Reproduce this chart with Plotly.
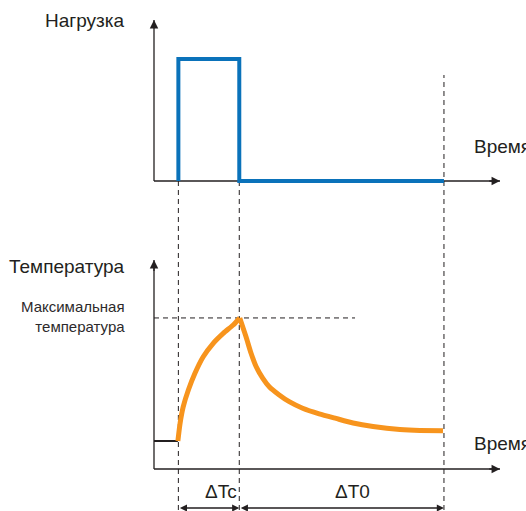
import plotly.graph_objects as go

# ---------------- data ----------------
# Load pulse (time units, relative load)
load_t = [1.0, 1.0, 3.5, 3.5, 11.9]
load_v = [0, 1, 1, 0, 0]

# Temperature: ambient segment, heating phase, cooling phase
ambient_t = [0.0, 0.98]
ambient_v = [20, 20]

heat_t = [0.98, 1.07, 1.20, 1.41, 1.68, 2.02, 2.43, 2.84, 3.25, 3.52]
heat_v = [20.0, 32.6, 44.5, 56.4, 68.4, 80.2, 89.8, 96.9, 102.9, 107.9]

cool_t = [3.52, 3.78, 3.98, 4.19, 4.46, 4.73, 5.14, 5.55, 6.10, 6.78, 7.47, 8.17, 8.99, 10.09, 10.91, 11.86]
cool_v = [107.9, 94.3, 82.9, 73.2, 65.0, 58.8, 52.9, 48.1, 43.4, 39.4, 36.1, 32.9, 30.4, 28.2, 27.5, 27.4]

t_on, t_off, t_end = 1.0, 3.5, 11.9
t_max = 14.2
load_max = 1.32
temp_max = 149.3
temp_peak = 107.9
maxline_end = 8.25

labels = {
    "load": "Нагрузка",
    "time": "Время",
    "temp": "Температура",
    "tmax": "Максимальная<br>температура",
    "dtc": "ΔTc",
    "dt0": "ΔT0",
}

# ---------------- styles ----------------
W, H = 526, 511
BLUE = "#0A72BA"
ORANGE = "#F7941D"
INK = "#231F20"
FONT = "Liberation Sans, Arial, sans-serif"


def px_x(p):
    return p / W


def px_y(p):
    return 1 - p / H


# pixel geometry of the two panels (origin and axis-tip positions)
X0, XTIP = 154, 500
TOP0, TOPTIP = 181, 20
BOT0, BOTTIP = 469, 260
x_scale = (XTIP - X0) / t_max
top_scale = (TOP0 - TOPTIP) / load_max
bot_scale = (BOT0 - BOTTIP) / temp_max
pad_t = 0.3     # small padding so lines on the axes are not clipped
pad_load = 0.05
pad_temp = 5

fig = go.Figure()

fig.add_trace(go.Scatter(x=load_t, y=load_v, mode="lines", xaxis="x", yaxis="y",
                         line=dict(color=BLUE, width=4, shape="linear"),
                         hoverinfo="skip", showlegend=False))
fig.add_trace(go.Scatter(x=ambient_t, y=ambient_v, mode="lines", xaxis="x2", yaxis="y2",
                         line=dict(color=INK, width=2),
                         hoverinfo="skip", showlegend=False))
fig.add_trace(go.Scatter(x=heat_t, y=heat_v, mode="lines", xaxis="x2", yaxis="y2",
                         line=dict(color=ORANGE, width=5, shape="spline", smoothing=0.6),
                         hoverinfo="skip", showlegend=False))
fig.add_trace(go.Scatter(x=cool_t, y=cool_v, mode="lines", xaxis="x2", yaxis="y2",
                         line=dict(color=ORANGE, width=5, shape="spline", smoothing=0.6),
                         hoverinfo="skip", showlegend=False))

hidden = dict(visible=False, fixedrange=True)
xdom = [px_x(X0 - pad_t * x_scale), px_x(XTIP + 2)]
x_range = [-pad_t, t_max + 2 / x_scale]

fig.update_layout(
    width=W, height=H, autosize=False,
    margin=dict(l=0, r=0, t=0, b=0),
    paper_bgcolor="white", plot_bgcolor="rgba(0,0,0,0)",
    xaxis=dict(domain=xdom, range=x_range, anchor="y", **hidden),
    yaxis=dict(domain=[px_y(TOP0 + pad_load * top_scale), px_y(TOPTIP)],
               range=[-pad_load, load_max], anchor="x", **hidden),
    xaxis2=dict(domain=xdom, range=x_range, anchor="y2", **hidden),
    yaxis2=dict(domain=[px_y(BOT0 + pad_temp * bot_scale), px_y(BOTTIP)],
                range=[-pad_temp, temp_max], anchor="x2", **hidden),
    showlegend=False,
)

axis_line = dict(color=INK, width=1.3)
dash = dict(color=INK, width=1, dash="5px,4px")
shapes = []
# axis lines (drawn below the data)
for xr, yr, ymax in (("x", "y", load_max), ("x2", "y2", temp_max)):
    shapes.append(dict(type="line", xref=xr, yref=yr, x0=0, x1=t_max, y0=0, y1=0,
                       line=axis_line, layer="below"))
    shapes.append(dict(type="line", xref=xr, yref=yr, x0=0, x1=0, y0=0, y1=ymax,
                       line=axis_line, layer="below"))
for t in (t_on, t_off):
    shapes.append(dict(type="line", xref="x", yref="paper", x0=t, x1=t,
                       y0=px_y(510), y1=px_y(181), line=dash, layer="below"))
shapes.append(dict(type="line", xref="x", yref="paper", x0=t_end, x1=t_end,
                   y0=px_y(510), y1=px_y(75), line=dash, layer="below"))
shapes.append(dict(type="line", xref="x2", yref="y2", x0=0, x1=maxline_end,
                   y0=temp_peak, y1=temp_peak, line=dash, layer="below"))
fig.update_layout(shapes=shapes)

ann = []
# arrowheads at the ends of the axes
head = dict(showarrow=True, arrowhead=2, arrowsize=1.3, arrowwidth=1.3,
            arrowcolor=INK, text="", standoff=0, startstandoff=0)
ann.append(dict(xref="x", yref="y", axref="x", ayref="y", x=t_max, y=0, ax=t_max - 0.5, ay=0, **head))
ann.append(dict(xref="x", yref="y", axref="x", ayref="y", x=0, y=load_max, ax=0, ay=load_max - 0.08, **head))
ann.append(dict(xref="x2", yref="y2", axref="x2", ayref="y2", x=t_max, y=0, ax=t_max - 0.5, ay=0, **head))
ann.append(dict(xref="x2", yref="y2", axref="x2", ayref="y2", x=0, y=temp_max, ax=0, ay=temp_max - 9, **head))

# dimension arrows
dim_style = dict(showarrow=True, arrowhead=2, startarrowhead=2, arrowside="end+start",
                 arrowsize=1.1, startarrowsize=1.1, arrowwidth=1.3, arrowcolor=INK,
                 text="", standoff=0, startstandoff=0)
ann.append(dict(xref="x2", yref="paper", axref="x2", ayref="pixel",
                x=t_off, ax=t_on, y=px_y(508), ay=0, **dim_style))
ann.append(dict(xref="x2", yref="paper", axref="x2", ayref="pixel",
                x=t_end, ax=t_off, y=px_y(508), ay=0, **dim_style))

tfont = dict(family=FONT, size=19, color=INK)
sfont = dict(family=FONT, size=15, color="#2d2a2b")
ann.append(dict(xref="paper", yref="paper", x=px_x(127), y=px_y(21), text=labels["load"],
                showarrow=False, xanchor="right", yanchor="middle", font=tfont))
ann.append(dict(xref="paper", yref="paper", x=px_x(472), y=px_y(146), text=labels["time"],
                showarrow=False, xanchor="left", yanchor="middle", font=tfont))
ann.append(dict(xref="paper", yref="paper", x=px_x(127), y=px_y(266), text=labels["temp"],
                showarrow=False, xanchor="right", yanchor="middle", font=tfont))
ann.append(dict(xref="paper", yref="paper", x=px_x(127), y=px_y(316), text=labels["tmax"],
                showarrow=False, xanchor="right", yanchor="middle", align="right", font=sfont))
ann.append(dict(xref="paper", yref="paper", x=px_x(472), y=px_y(443), text=labels["time"],
                showarrow=False, xanchor="left", yanchor="middle", font=tfont))
ann.append(dict(xref="paper", yref="paper", x=px_x(221), y=px_y(491), text=labels["dtc"],
                showarrow=False, xanchor="center", yanchor="middle", font=tfont))
ann.append(dict(xref="paper", yref="paper", x=px_x(352), y=px_y(491), text=labels["dt0"],
                showarrow=False, xanchor="center", yanchor="middle", font=tfont))
fig.update_layout(annotations=ann)

fig.write_html("out.html", config={"displayModeBar": False},
               post_script="document.body.style.margin='0';document.body.style.overflow='hidden';")
